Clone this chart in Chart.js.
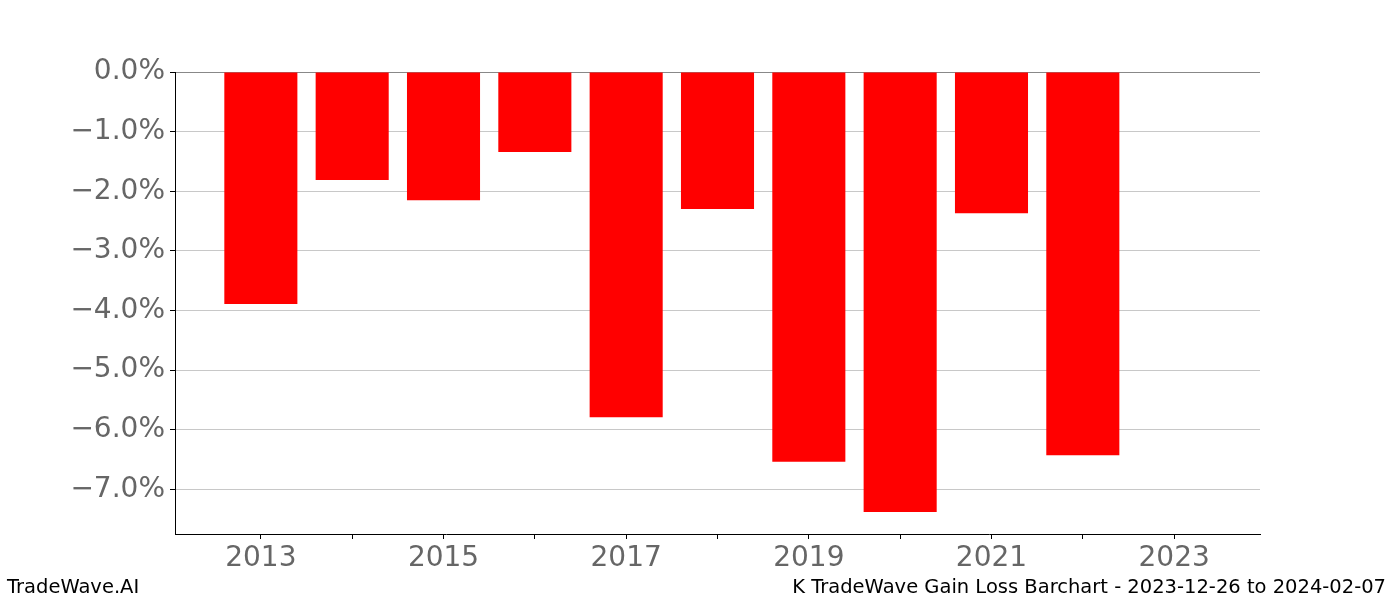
<!DOCTYPE html>
<html>
<head>
<meta charset="utf-8">
<script src="https://cdn.jsdelivr.net/npm/chart.js@4.4.0/dist/chart.umd.min.js"></script>
<style>
  body { margin: 0; background: #fff; }
  #wrap { position: relative; width: 1400px; height: 600px; }
  .foot { position: absolute; top: 575px; font-family: "DejaVu Sans", sans-serif; font-size: 19.5px; color: #000; }
</style>
</head>
<body>
<div id="wrap">
  <canvas id="gainLoss" width="1400" height="600"></canvas>
  <div class="foot" style="left:7px;">TradeWave.AI</div>
  <div class="foot" style="right:14px;">K TradeWave Gain Loss Barchart - 2023-12-26 to 2024-02-07</div>
</div>
<script>
// years and gain/loss in percent
const years = [2013, 2014, 2015, 2016, 2017, 2018, 2019, 2020, 2021, 2022];
const values = [-3.89, -1.81, -2.15, -1.34, -5.79, -2.30, -6.54, -7.38, -2.37, -6.43];
const yearTicks = [2013, 2014, 2015, 2016, 2017, 2018, 2019, 2020, 2021, 2022, 2023];
const pctTicks = [0, -1, -2, -3, -4, -5, -6, -7];

const tickFont = { family: 'DejaVu Sans', size: 28 };

const data = {
    datasets: [{
        label: 'Gain/Loss',
        backgroundColor: 'rgb(255, 0, 0)',
        borderWidth: 0,
        barPercentage: 0.8,
        categoryPercentage: 1.0,
        data: years.map((y, i) => ({ x: y, y: values[i] })),
    }]
};

const config = {
    type: 'bar',
    data: data,
    options: {
        responsive: false,
        animation: false,
        layout: { padding: { top: 72, right: 140, left: 0, bottom: 0 } },
        plugins: { legend: { display: false }, tooltip: { enabled: false } },
        scales: {
            x: {
                type: 'linear',
                min: 2012.06,
                max: 2023.94,
                offset: false,
                afterBuildTicks: (axis) => { axis.ticks = yearTicks.map(v => ({ value: v })); },
                afterFit: (axis) => { axis.height = 66; },
                border: { display: true, color: '#000', width: 1 },
                grid: { offset: false, drawOnChartArea: false, tickLength: 5, tickColor: '#000' },
                ticks: {
                    autoSkip: false,
                    maxRotation: 0,
                    padding: 3,
                    color: '#666',
                    font: tickFont,
                    callback: (v) => (v % 2 === 1 ? String(v) : '')
                }
            },
            y: {
                min: -7.75,
                max: 0,
                afterBuildTicks: (axis) => { axis.ticks = pctTicks.map(v => ({ value: v })); },
                afterFit: (axis) => { axis.width = 175; },
                border: { display: true, color: '#000', width: 1 },
                grid: {
                    color: (ctx) => (ctx.tick && ctx.tick.value === 0 ? '#888' : '#c8c8c8'),
                    tickLength: 5,
                    tickColor: '#000'
                },
                ticks: {
                    padding: 5,
                    color: '#666',
                    font: tickFont,
                    callback: (v) => (v === 0 ? '0.0%' : '\u2212' + Math.abs(v).toFixed(1) + '%')
                }
            }
        }
    }
};

const myChart = new Chart(document.getElementById('gainLoss'), config);
</script>
</body>
</html>
